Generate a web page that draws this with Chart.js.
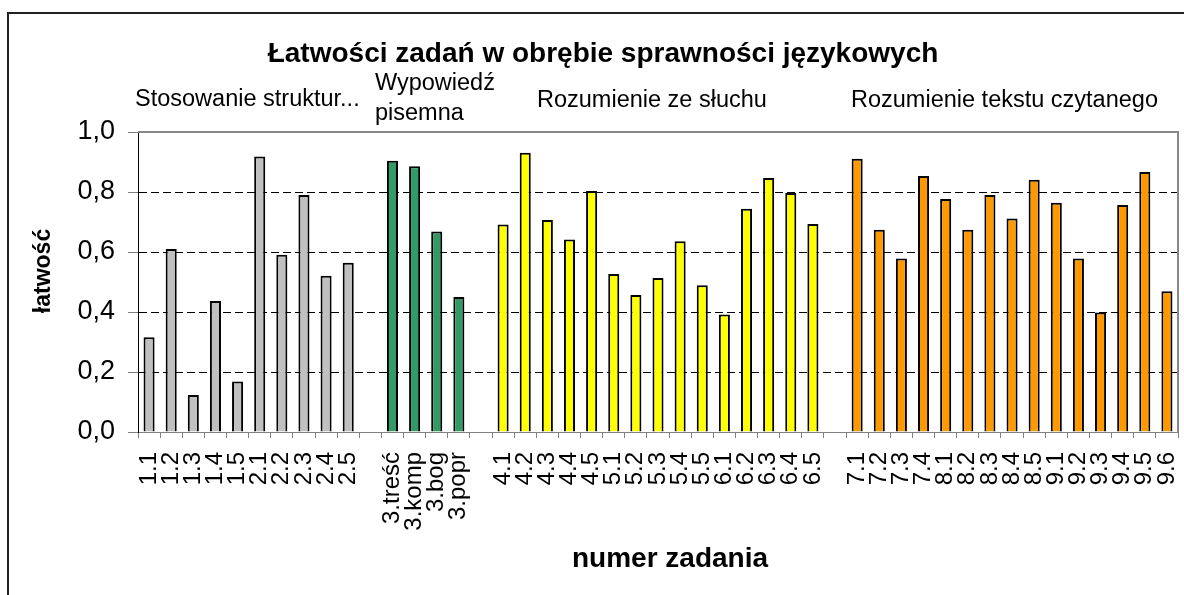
<!DOCTYPE html>
<html><head><meta charset="utf-8">
<script src="https://cdn.jsdelivr.net/npm/chart.js@4/dist/chart.umd.min.js"></script>
<style>html,body{margin:0;padding:0;background:#fff;overflow:hidden}#wrap{position:relative;width:1184px;height:595px}</style>
</head><body><div id="wrap"><canvas id="c" width="1184" height="595"></canvas></div>
<script>
const chartTitle = 'Łatwości zadań w obrębie sprawności językowych';
const yAxisTitle = 'łatwość';
const xAxisTitle = 'numer zadania';
const groupTitles = [['Stosowanie struktur...'], ['Wypowiedź', 'pisemna'], ['Rozumienie ze słuchu'], ['Rozumienie tekstu czytanego']];

const catsStruktury = ['1.1','1.2','1.3','1.4','1.5','2.1','2.2','2.3','2.4','2.5'];
const valsStruktury = [0.316,0.610,0.123,0.437,0.168,0.918,0.591,0.790,0.521,0.564];
const catsPisemna = ['3.treść','3.komp','3.bog','3.popr'];
const valsPisemna = [0.904,0.886,0.668,0.450];
const catsSluch = ['4.1','4.2','4.3','4.4','4.5','5.1','5.2','5.3','5.4','5.5','6.1','6.2','6.3','6.4','6.5'];
const valsSluch = [0.692,0.931,0.707,0.642,0.803,0.527,0.457,0.513,0.636,0.489,0.392,0.744,0.847,0.797,0.693];
const catsCzytanie = ['7.1','7.2','7.3','7.4','8.1','8.2','8.3','8.4','8.5','9.1','9.2','9.3','9.4','9.5','9.6'];
const valsCzytanie = [0.911,0.674,0.578,0.853,0.777,0.674,0.790,0.712,0.841,0.764,0.578,0.398,0.757,0.867,0.469];
const yTicks = [0, 0.2, 0.4, 0.6, 0.8, 1.0];
const groupColors = ['#C0C0C0', '#339966', '#FFFF00', '#FF9900'];

const groups = [[catsStruktury, valsStruktury], [catsPisemna, valsPisemna], [catsSluch, valsSluch], [catsCzytanie, valsCzytanie]];
const labels = [], values = [], colors = [];
groups.forEach(([cats, vals], gi) => {
  if (gi > 0) { labels.push(''); values.push(null); colors.push('rgba(0,0,0,0)'); }
  cats.forEach((c, i) => { labels.push(c); values.push(vals[i]); colors.push(groupColors[gi]); });
});

const FONT = "'Liberation Sans', Arial, sans-serif";

const decor = {
  id: 'decor',
  beforeDraw(chart) {
    const ctx = chart.ctx;
    ctx.save();
    ctx.fillStyle = '#fff';
    ctx.fillRect(0, 0, chart.width, chart.height);
    ctx.strokeStyle = '#222';
    ctx.lineWidth = 2;
    ctx.beginPath();
    ctx.moveTo(8, 595); ctx.lineTo(8, 13); ctx.lineTo(1184, 13);
    ctx.stroke();
    ctx.restore();
  },
  afterDraw(chart) {
    const ctx = chart.ctx;
    const a = chart.chartArea;
    ctx.save();
    ctx.strokeStyle = '#888';
    ctx.lineWidth = 2;
    ctx.beginPath();
    ctx.moveTo(a.left, a.top); ctx.lineTo(a.right, a.top); ctx.lineTo(a.right, a.bottom);
    ctx.stroke();
    ctx.fillStyle = '#000';
    ctx.textBaseline = 'alphabetic';
    ctx.textAlign = 'center';
    ctx.font = 'bold 28px ' + FONT;
    ctx.fillText(chartTitle, 603, 62);
    ctx.textAlign = 'left';
    ctx.font = '23.5px ' + FONT;
    ctx.fillText(groupTitles[0][0], 135, 106);
    ctx.fillText(groupTitles[1][0], 375, 90);
    ctx.fillText(groupTitles[1][1], 375, 120);
    ctx.fillText(groupTitles[2][0], 537, 107);
    ctx.fillText(groupTitles[3][0], 851, 107);
    ctx.textAlign = 'center';
    ctx.font = 'bold 28px ' + FONT;
    ctx.fillText(xAxisTitle, 670, 567);
    ctx.font = 'bold 23px ' + FONT;
    ctx.translate(50, 271);
    ctx.rotate(-Math.PI / 2);
    ctx.fillText(yAxisTitle, 0, 0);
    ctx.restore();
  }
};

new Chart(document.getElementById('c'), {
  type: 'bar',
  data: {
    labels: labels,
    datasets: [{
      data: values,
      backgroundColor: colors,
      borderColor: '#000',
      borderWidth: 2,
      barPercentage: 0.5,
      categoryPercentage: 1.0
    }]
  },
  options: {
    responsive: false,
    animation: false,
    layout: { padding: { top: 132, right: 6, left: 0, bottom: 0 } },
    plugins: { legend: { display: false }, tooltip: { enabled: false }, title: { display: false } },
    scales: {
      x: {
        ticks: { autoSkip: false, maxRotation: 90, minRotation: 90, font: { family: FONT, size: 24 }, color: '#000', padding: 14 },
        grid: { offset: true, drawOnChartArea: false, tickLength: 6, tickColor: '#808080', tickWidth: 1 },
        border: { color: '#808080', width: 1 },
        afterFit: s => { s.height = 163; s.paddingLeft = 0; s.paddingRight = 0; }
      },
      y: {
        min: 0, max: 1,
        afterBuildTicks: s => { s.ticks = yTicks.map(v => ({ value: v })); },
        ticks: { font: { family: FONT, size: 27 }, color: '#000', padding: 13,
          callback: v => Number(v).toFixed(1).replace('.', ',') },
        grid: {
          color: c => (c.tick && (c.tick.value === 0 || c.tick.value === 1)) ? 'rgba(0,0,0,0)' : '#000',
          lineWidth: 1, tickLength: 10, tickColor: '#808080', tickBorderDash: [], drawTicks: true
        },
        border: { color: '#000', width: 1, dash: [8, 4] },
        afterFit: s => { s.width = 138; s.paddingTop = 0; s.paddingBottom = 0; }
      }
    }
  },
  plugins: [decor]
});
</script></body></html>
